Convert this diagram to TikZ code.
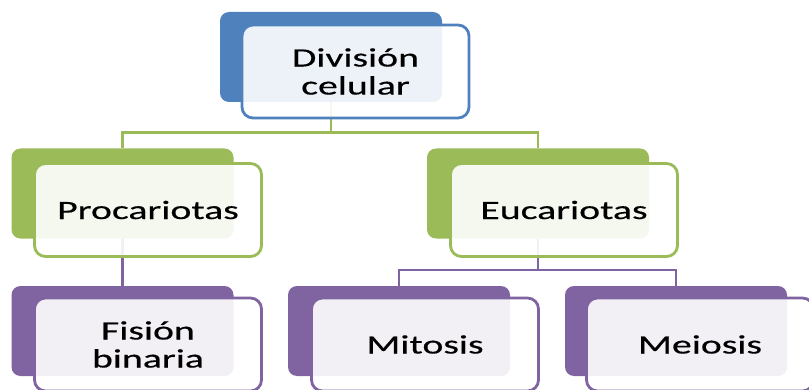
\documentclass[tikz,border=0pt]{standalone}
\usepackage{fontspec}
\setmainfont{Carlito}[FakeStretch=1.5,FakeBold=0.4]
\definecolor{cblue}{HTML}{4F81BD}
\definecolor{cgreen}{HTML}{9BBB59}
\definecolor{cpurple}{HTML}{8064A2}
\begin{document}
\begin{tikzpicture}[x=1pt,y=1pt,
  backbox/.style={draw=none,fill=#1,rounded corners=9pt,minimum width=222pt,minimum height=90pt,inner sep=0pt},
  frontbox/.style={draw=#1,line width=2.8pt,fill=white,fill opacity=0.9,text opacity=1,rounded corners=11pt,
    minimum width=227pt,minimum height=93pt,inner sep=0pt,align=center,
    font=\fontsize{26.5}{28}\selectfont},
  conn/.style={draw=#1,line width=2.6pt}]
\useasboundingbox (0,0) rectangle (809,389);
\clip (0,0) rectangle (809,389);
% back boxes
\node[backbox=cblue]   (b0) at (331,332) {};
\node[backbox=cgreen]  (b1) at (122.5,195.5) {};
\node[backbox=cgreen]  (b2) at (538,195.5) {};
\node[backbox=cpurple] (b3) at (122.5,58) {};
\node[backbox=cpurple] (b4) at (399,58) {};
\node[backbox=cpurple] (b5) at (676,58) {};
% connectors
\coordinate (g) at (0,256.5);
\coordinate (p) at (0,119);
\draw[conn=cgreen] (b0.south) -- (b0.south |- g) -| (b1.north);
\draw[conn=cgreen] (b0.south |- g) -| (b2.north);
\draw[conn=cpurple] (b1.south) -- (b3.north);
\draw[conn=cpurple] (b2.south) -- (b2.south |- p) -| (b4.north);
\draw[conn=cpurple] (b2.south |- p) -| (b5.north);
% front boxes
\node[frontbox=cblue]   (f0) at (355.5,317.5) {División\\celular};
\node[frontbox=cgreen]  (f1) at (148,179) {Procariotas};
\node[frontbox=cgreen]  (f2) at (564,179) {Eucariotas};
\node[frontbox=cpurple] (f3) at (148,44.5) {Fisión\\binaria};
\node[frontbox=cpurple] (f4) at (425,44.5) {Mitosis};
\node[frontbox=cpurple] (f5) at (700,44.5) {Meiosis};
\end{tikzpicture}
\end{document}
